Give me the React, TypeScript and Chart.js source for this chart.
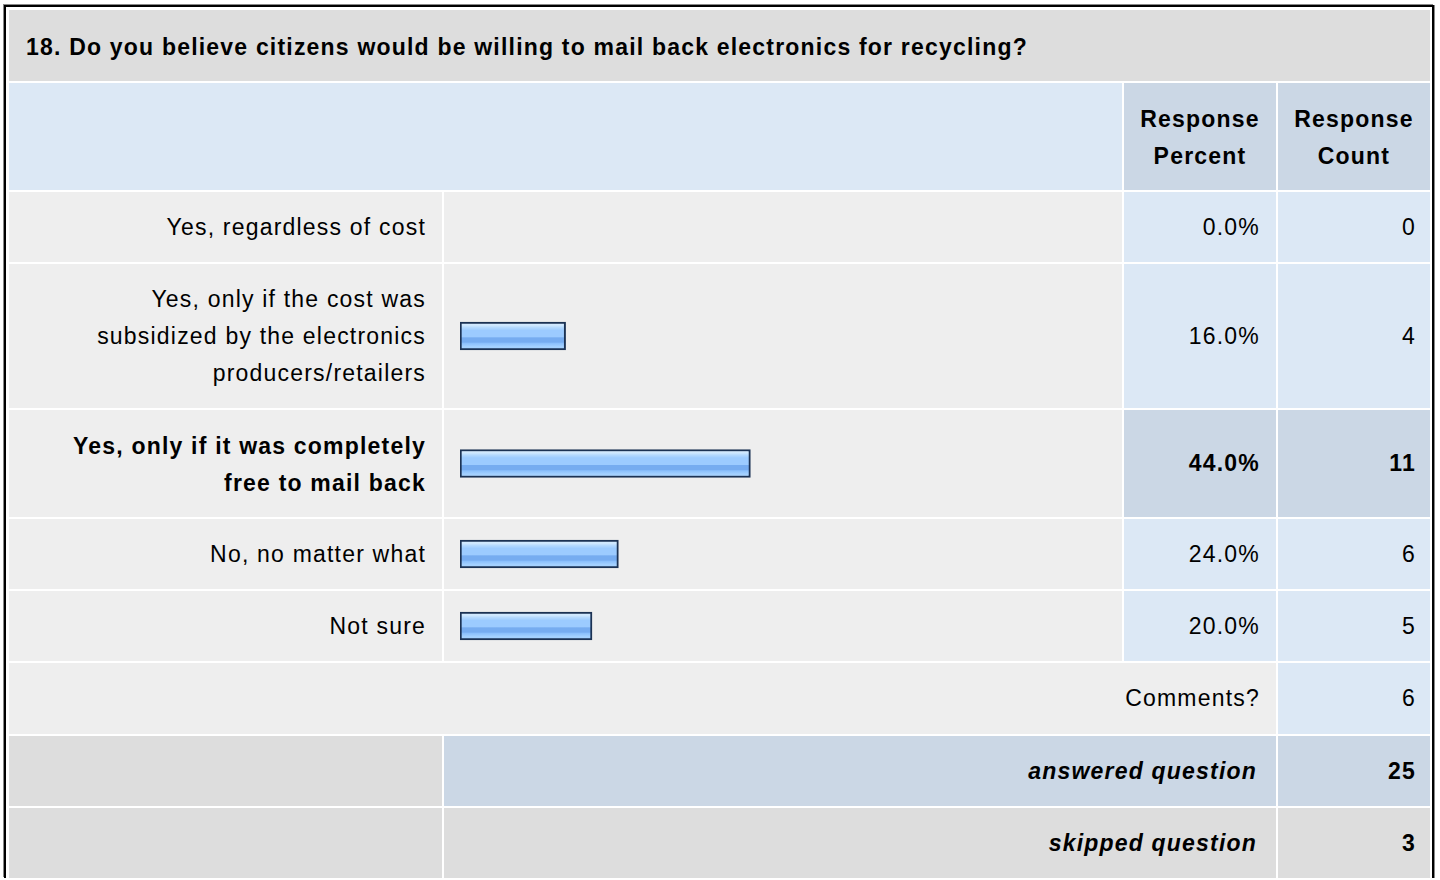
import React, { useEffect, useRef } from "react";
import { Chart, registerables } from "chart.js";

Chart.register(...registerables);

// ---- data ----
const title = "18. Do you believe citizens would be willing to mail back electronics for recycling?";
const categories: string[][] = [
  ["Yes, regardless of cost"],
  ["Yes, only if the cost was", "subsidized by the electronics", "producers/retailers"],
  ["Yes, only if it was completely", "free to mail back"],
  ["No, no matter what"],
  ["Not sure"],
];
const percents = [0.0, 16.0, 44.0, 24.0, 20.0];
const counts = [0, 4, 11, 6, 5];
const percentHeader = ["Response", "Percent"];
const countHeader = ["Response", "Count"];
const commentsLabel = "Comments?";
const commentsCount = 6;
const answeredLabel = "answered question";
const answeredCount = 25;
const skippedLabel = "skipped question";
const skippedCount = 3;
const axisMax = 100;

// ---- layout ----
const colWidths = [433, 678, 152, 152];
const titleH = 71;
const headerH = 107;
const rowHeights = [70, 144, 107, 70, 70];
const commentsH = 71;
const answeredH = 70;
const skippedH = 70;

const FONT = '"Liberation Sans", Arial, Helvetica, sans-serif';
const C_GREY = "#dddddd";
const C_LIGHT = "#eeeeee";
const C_BLUE = "#dce8f5";
const C_BLUE2 = "#cbd7e5";

function BarCell({ value, width, height }: { value: number; width: number; height: number }) {
  const ref = useRef<HTMLCanvasElement>(null);
  useEffect(() => {
    const chart = new Chart(ref.current as HTMLCanvasElement, {
      type: "bar",
      data: {
        labels: [""],
        datasets: [
          {
            data: [value],
            backgroundColor: (c: any) => {
              const ch = c.chart;
              const area = ch.chartArea;
              if (!area) return "#9ecdff";
              const cy = (area.top + area.bottom) / 2;
              const g = ch.ctx.createLinearGradient(0, cy - 14, 0, cy + 14);
              g.addColorStop(0.0, "#d4ecff");
              g.addColorStop(0.12, "#cfe8ff");
              g.addColorStop(0.2, "#b3d9ff");
              g.addColorStop(0.3, "#9ccbff");
              g.addColorStop(0.54, "#9ccbff");
              g.addColorStop(0.56, "#76acf0");
              g.addColorStop(0.72, "#76acf0");
              g.addColorStop(0.76, "#8bc0fc");
              g.addColorStop(0.88, "#a4d1ff");
              g.addColorStop(1.0, "#a4d1ff");
              return g;
            },
            borderColor: "#1b3254",
            borderWidth: 2,
            borderSkipped: false,
            barThickness: 28,
          } as any,
        ],
      },
      options: {
        indexAxis: "y",
        animation: false,
        responsive: false,
        devicePixelRatio: 1,
        events: [],
        layout: { padding: { left: 16, right: 2, top: 0, bottom: 0 } },
        plugins: { legend: { display: false }, tooltip: { enabled: false } },
        scales: {
          x: { min: 0, max: axisMax, display: false },
          y: { display: false },
        },
      } as any,
    });
    return () => chart.destroy();
  }, [value, width, height]);
  return <canvas ref={ref} width={width} height={height} style={{ display: "block", width, height }} />;
}

type CellProps = {
  row: number;
  col: string;
  bg: string;
  align?: "left" | "right" | "center";
  bold?: boolean;
  italic?: boolean;
  pr?: number;
  pl?: number;
  children?: React.ReactNode;
};

function Cell({ row, col, bg, align = "right", bold, italic, pr = 0, pl = 0, children }: CellProps) {
  return (
    <div
      style={{
        gridRow: row,
        gridColumn: col,
        background: bg,
        display: "flex",
        alignItems: "center",
        justifyContent: align === "right" ? "flex-end" : align === "center" ? "center" : "flex-start",
        textAlign: align,
        fontWeight: bold ? "bold" : "normal",
        fontStyle: italic ? "italic" : "normal",
        paddingRight: pr,
        paddingLeft: pl,
        boxSizing: "border-box",
        overflow: "hidden",
      }}
    >
      <div>{children}</div>
    </div>
  );
}

function lines(ls: string[]) {
  return ls.map((l, i) => <div key={i}>{l}</div>);
}

export default function App() {
  useEffect(() => {
    document.documentElement.style.overflow = "hidden";
    document.body.style.margin = "0";
  }, []);

  const maxIdx = percents.indexOf(Math.max(...percents));
  const rows = [titleH, headerH, ...rowHeights, commentsH, answeredH, skippedH];

  return (
    <div
      style={{
        position: "absolute",
        left: 4,
        top: 5,
        borderLeft: "2px solid #000",
        borderTop: "2px solid #000",
        borderRight: "2px solid #000",
        boxShadow: "-1px -1px 0 #888, 1px 0 0 #888",
        background: "#fff",
        padding: "3px 2px 0 3px",
        fontFamily: FONT,
        fontSize: 23,
        lineHeight: "37px",
        letterSpacing: "1.2px",
        color: "#000",
      }}
    >
      <div
        style={{
          display: "grid",
          gridTemplateColumns: colWidths.map((w) => w + "px").join(" "),
          gridTemplateRows: rows.map((h) => h + "px").join(" "),
          gap: 2,
        }}
      >
        <Cell row={1} col="1 / 5" bg={C_GREY} align="left" bold pl={17}>
          <div style={{ paddingTop: 4 }}>{title}</div>
        </Cell>

        <Cell row={2} col="1 / 3" bg={C_BLUE} />
        <Cell row={2} col="3 / 4" bg={C_BLUE2} align="center" bold>
          <div style={{ paddingTop: 2 }}>{lines(percentHeader)}</div>
        </Cell>
        <Cell row={2} col="4 / 5" bg={C_BLUE2} align="center" bold>
          <div style={{ paddingTop: 2 }}>{lines(countHeader)}</div>
        </Cell>

        {categories.map((cat, i) => {
          const r = 3 + i;
          const hi = i === maxIdx;
          return (
            <React.Fragment key={i}>
              <Cell row={r} col="1 / 2" bg={C_LIGHT} bold={hi} pr={16}>
                <div style={{ paddingTop: hi ? 3 : 0 }}>{lines(cat)}</div>
              </Cell>
              <div style={{ gridRow: r, gridColumn: "2 / 3", background: C_LIGHT }}>
                <BarCell value={percents[i]} width={colWidths[1]} height={rowHeights[i]} />
              </div>
              <Cell row={r} col="3 / 4" bg={hi ? C_BLUE2 : C_BLUE} bold={hi} pr={16}>
                {percents[i].toFixed(1) + "%"}
              </Cell>
              <Cell row={r} col="4 / 5" bg={hi ? C_BLUE2 : C_BLUE} bold={hi} pr={14}>
                {counts[i]}
              </Cell>
            </React.Fragment>
          );
        })}

        <Cell row={8} col="1 / 4" bg={C_LIGHT} pr={16}>
          {commentsLabel}
        </Cell>
        <Cell row={8} col="4 / 5" bg={C_BLUE} pr={14}>
          {commentsCount}
        </Cell>

        <Cell row={9} col="1 / 2" bg={C_GREY} />
        <Cell row={9} col="2 / 4" bg={C_BLUE2} bold italic pr={19}>
          {answeredLabel}
        </Cell>
        <Cell row={9} col="4 / 5" bg={C_BLUE2} bold pr={14}>
          {answeredCount}
        </Cell>

        <Cell row={10} col="1 / 2" bg={C_GREY} />
        <Cell row={10} col="2 / 4" bg={C_GREY} bold italic pr={19}>
          {skippedLabel}
        </Cell>
        <Cell row={10} col="4 / 5" bg={C_GREY} bold pr={14}>
          {skippedCount}
        </Cell>
      </div>
    </div>
  );
}
